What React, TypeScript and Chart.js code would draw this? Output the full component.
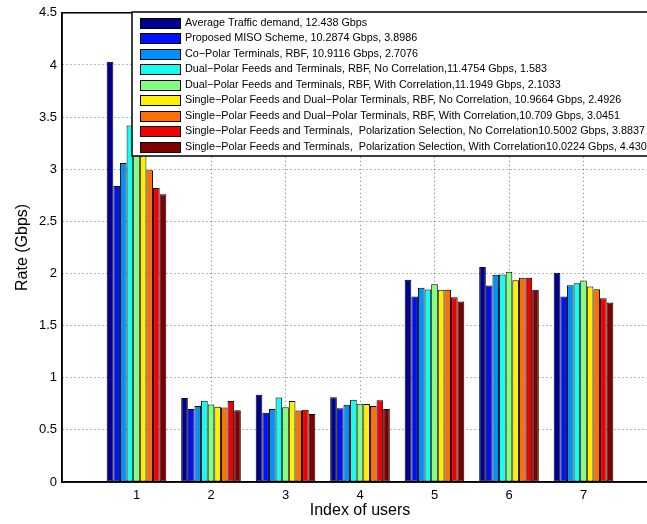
import React, { useEffect, useRef } from 'react';
import { Chart, registerables } from 'chart.js';

Chart.register(...registerables);

const categories = [1, 2, 3, 4, 5, 6, 7];
const yTicks = [0, 0.5, 1, 1.5, 2, 2.5, 3, 3.5, 4, 4.5];

const seriesLabels = [
  'Average Traffic demand, 12.438 Gbps',
  'Proposed MISO Scheme, 10.2874 Gbps, 3.8986',
  'Co\u2212Polar Terminals, RBF, 10.9116 Gbps, 2.7076',
  'Dual\u2212Polar Feeds and Terminals, RBF, No Correlation,11.4754 Gbps, 1.583',
  'Dual\u2212Polar Feeds and Terminals, RBF, With Correlation,11.1949 Gbps, 2.1033',
  'Single\u2212Polar Feeds and Dual\u2212Polar Terminals, RBF, No Correlation, 10.9664 Gbps, 2.4926',
  'Single\u2212Polar Feeds and Dual\u2212Polar Terminals, RBF, With Correlation,10.709 Gbps, 3.0451',
  'Single\u2212Polar Feeds and Terminals,  Polarization Selection, No Correlation10.5002 Gbps, 3.8837',
  'Single\u2212Polar Feeds and Terminals,  Polarization Selection, With Correlation10.0224 Gbps, 4.4307',
];

const seriesColors = [
  '#00008F',
  '#0010FF',
  '#0090FF',
  '#10FFEF',
  '#80FF80',
  '#FFF000',
  '#FF7000',
  '#F00000',
  '#800000',
];

const avgTraffic = [4.03, 0.805, 0.836, 0.814, 1.94, 2.061, 2.006];
const proposedMiso = [2.84, 0.699, 0.663, 0.708, 1.78, 1.885, 1.779];
const coPolar = [3.06, 0.73, 0.699, 0.74, 1.862, 1.987, 1.888];
const dualNoCorr = [3.42, 0.78, 0.811, 0.788, 1.846, 1.99, 1.907];
const dualWithCorr = [3.35, 0.743, 0.718, 0.75, 1.897, 2.016, 1.933];
const singleDualNoCorr = [3.2, 0.721, 0.776, 0.747, 1.843, 1.936, 1.875];
const singleDualWithCorr = [2.99, 0.715, 0.686, 0.728, 1.843, 1.958, 1.849];
const singlePolNoCorr = [2.82, 0.776, 0.692, 0.785, 1.772, 1.958, 1.763];
const singlePolWithCorr = [2.76, 0.689, 0.651, 0.699, 1.731, 1.843, 1.721];

const seriesValues = [
  avgTraffic,
  proposedMiso,
  coPolar,
  dualNoCorr,
  dualWithCorr,
  singleDualNoCorr,
  singleDualWithCorr,
  singlePolNoCorr,
  singlePolWithCorr,
];

const FONT = '"Liberation Sans", Arial, Helvetica, sans-serif';

const overlayPlugin = {
  id: 'matlabOverlay',
  afterDraw(chart: any) {
    const ctx = chart.ctx as CanvasRenderingContext2D;
    const { left, top, right, bottom } = chart.chartArea;
    ctx.save();
    // axes box
    ctx.strokeStyle = '#000';
    ctx.lineWidth = 1.5;
    ctx.strokeRect(left, top, right - left, bottom - top);

    // legend box
    const lx = 132;
    const ly = 12;
    const lw = 580;
    const lh = 144;
    ctx.fillStyle = '#fff';
    ctx.fillRect(lx, ly, lw, lh);
    ctx.lineWidth = 1.5;
    ctx.strokeStyle = '#000';
    ctx.strokeRect(lx, ly, lw, lh);

    ctx.font = '10.8px ' + FONT;
    ctx.textBaseline = 'middle';
    ctx.textAlign = 'left';
    chart.data.datasets.forEach((ds: any, i: number) => {
      const cy = Math.round(23 + i * 15.46);
      ctx.fillStyle = ds.backgroundColor;
      ctx.fillRect(140, cy - 5, 41, 11);
      ctx.lineWidth = 1;
      ctx.strokeStyle = '#000';
      ctx.strokeRect(140.5, cy - 4.5, 40, 10);
      ctx.fillStyle = '#000';
      ctx.fillText(ds.label, 185, cy + 0.5);
    });

    // axis titles
    ctx.fillStyle = '#000';
    ctx.font = '16px ' + FONT;
    ctx.textAlign = 'center';
    ctx.textBaseline = 'middle';
    ctx.fillText('Index of users', (left + right) / 2, 511);
    ctx.save();
    ctx.translate(23, (top + bottom) / 2);
    ctx.rotate(-Math.PI / 2);
    ctx.fillText('Rate (Gbps)', 0, 0);
    ctx.restore();
    ctx.restore();
  },
};

export default function App() {
  const canvasRef = useRef<HTMLCanvasElement | null>(null);

  useEffect(() => {
    if (!canvasRef.current) return;
    const datasets = seriesValues.map((vals, si) => ({
      label: seriesLabels[si],
      data: categories.map((c, i) => ({ x: c, y: vals[i] })),
      backgroundColor: seriesColors[si],
      borderColor: '#000',
      borderWidth: 1,
      borderSkipped: false as any,
      categoryPercentage: 0.8,
      barPercentage: 1,
    }));

    const chart = new Chart(canvasRef.current, {
      type: 'bar',
      data: { datasets },
      options: {
        animation: false,
        responsive: false,
        maintainAspectRatio: false,
        devicePixelRatio: 1,
        layout: { padding: { top: 12, right: 22, left: 0, bottom: 0 } },
        plugins: {
          legend: { display: false },
          tooltip: { enabled: false },
        },
        scales: {
          x: {
            type: 'linear',
            min: 0,
            max: 8,
            offset: false,
            grid: {
              offset: false,
              color: 'rgba(0,0,0,0.55)',
              lineWidth: 1,
              drawTicks: false,
            },
            border: { display: true, color: '#000', width: 1.5, dash: [1, 3] },
            ticks: {
              font: { family: FONT, size: 13 },
              color: '#000',
              padding: 6,
              maxRotation: 0,
              autoSkip: false,
            },
            afterBuildTicks: (scale: any) => {
              scale.ticks = categories.map((v) => ({ value: v }));
            },
            afterFit: (scale: any) => {
              scale.height = 42;
            },
          } as any,
          y: {
            min: 0,
            max: 4.5,
            grid: {
              color: 'rgba(0,0,0,0.55)',
              lineWidth: 1,
              drawTicks: false,
            },
            border: { display: true, color: '#000', width: 1.5, dash: [1, 3] },
            ticks: {
              font: { family: FONT, size: 13 },
              color: '#000',
              padding: 5,
              callback: (v: any) => String(v),
            },
            afterBuildTicks: (scale: any) => {
              scale.ticks = yTicks.map((v) => ({ value: v }));
            },
            afterFit: (scale: any) => {
              scale.width = 62;
            },
          } as any,
        },
      },
      plugins: [overlayPlugin],
    });

    return () => chart.destroy();
  }, []);

  return (
    <div
      style={{
        position: 'fixed',
        left: 0,
        top: 0,
        width: 647,
        height: 524,
        overflow: 'hidden',
        background: '#fff',
      }}
    >
      <canvas ref={canvasRef} width={680} height={524} style={{ display: 'block' }} />
    </div>
  );
}
